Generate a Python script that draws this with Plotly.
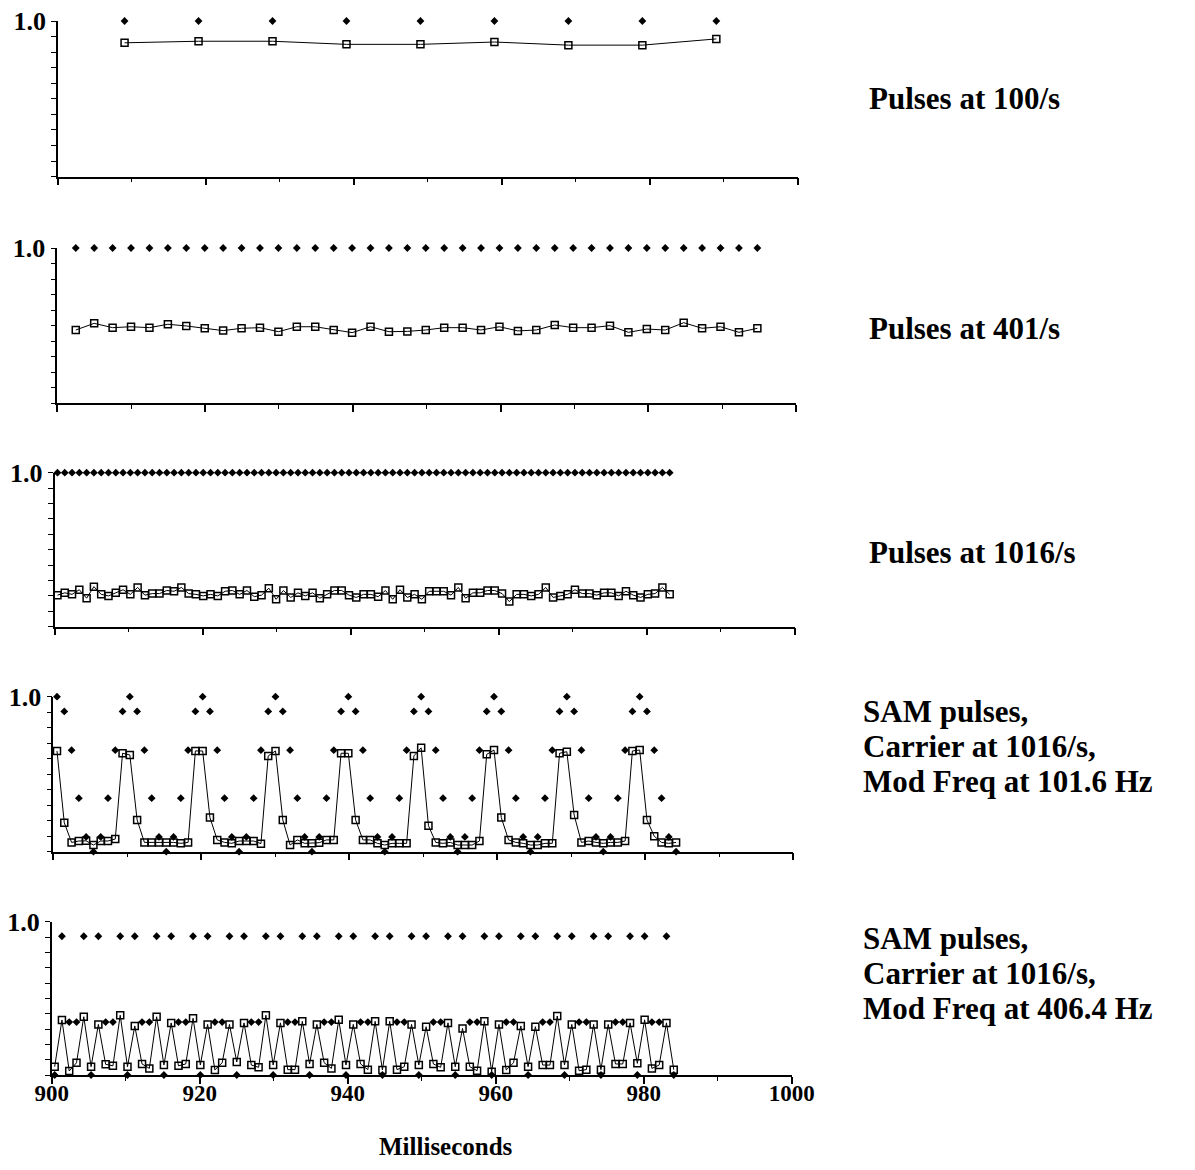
import plotly.graph_objects as go

# page offset (browser body margin) and figure size
OFF = 8
FW, FH = 1179, 1154

# ---------------- data ----------------
# pulse onset (ms) and pulse rate (pulses/s) for each panel
P1_T0, P1_RATE = 909.0, 100.0
P2_T0, P2_RATE = 902.5, 401.0
P3_T0, P3_RATE = 900.4, 1016.0
P4_T0, P4_RATE = 900.5, 1016.0
P5_T0, P5_RATE = 900.4, 1016.0

p1_stim = [1.0, 1.0, 1.0, 1.0, 1.0, 1.0, 1.0, 1.0, 1.0]
p1_resp = [0.86, 0.87, 0.87, 0.85, 0.85, 0.865, 0.845, 0.845, 0.885]

p2_stim = [1.0, 1.0, 1.0, 1.0, 1.0, 1.0, 1.0, 1.0, 1.0, 1.0,
           1.0, 1.0, 1.0, 1.0, 1.0, 1.0, 1.0, 1.0, 1.0, 1.0,
           1.0, 1.0, 1.0, 1.0, 1.0, 1.0, 1.0, 1.0, 1.0, 1.0,
           1.0, 1.0, 1.0, 1.0, 1.0, 1.0, 1.0, 1.0]
p2_resp = [0.471, 0.514, 0.486, 0.492, 0.486, 0.508, 0.497, 0.482, 0.467, 0.482,
           0.486, 0.460, 0.492, 0.492, 0.471, 0.454, 0.492, 0.460, 0.462, 0.471,
           0.486, 0.486, 0.471, 0.492, 0.465, 0.471, 0.503, 0.486, 0.486, 0.499,
           0.456, 0.477, 0.471, 0.518, 0.482, 0.492, 0.456, 0.482]

p3_stim = [1.0, 1.0, 1.0, 1.0, 1.0, 1.0, 1.0, 1.0, 1.0, 1.0,
           1.0, 1.0, 1.0, 1.0, 1.0, 1.0, 1.0, 1.0, 1.0, 1.0,
           1.0, 1.0, 1.0, 1.0, 1.0, 1.0, 1.0, 1.0, 1.0, 1.0,
           1.0, 1.0, 1.0, 1.0, 1.0, 1.0, 1.0, 1.0, 1.0, 1.0,
           1.0, 1.0, 1.0, 1.0, 1.0, 1.0, 1.0, 1.0, 1.0, 1.0,
           1.0, 1.0, 1.0, 1.0, 1.0, 1.0, 1.0, 1.0, 1.0, 1.0,
           1.0, 1.0, 1.0, 1.0, 1.0, 1.0, 1.0, 1.0, 1.0, 1.0,
           1.0, 1.0, 1.0, 1.0, 1.0, 1.0, 1.0, 1.0, 1.0, 1.0,
           1.0, 1.0, 1.0, 1.0, 1.0]
p3_resp = [0.205, 0.22, 0.21, 0.24, 0.185, 0.26, 0.21, 0.2, 0.22, 0.24,
           0.21, 0.255, 0.205, 0.215, 0.215, 0.235, 0.23, 0.255, 0.215, 0.21,
           0.2, 0.21, 0.2, 0.23, 0.235, 0.21, 0.235, 0.195, 0.205, 0.25,
           0.178, 0.235, 0.19, 0.22, 0.2, 0.22, 0.185, 0.21, 0.235, 0.235,
           0.205, 0.19, 0.21, 0.21, 0.195, 0.235, 0.178, 0.24, 0.19, 0.21,
           0.178, 0.23, 0.23, 0.23, 0.205, 0.255, 0.185, 0.22, 0.22, 0.235,
           0.235, 0.215, 0.163, 0.21, 0.21, 0.2, 0.21, 0.255, 0.19, 0.2,
           0.21, 0.24, 0.215, 0.215, 0.205, 0.22, 0.22, 0.2, 0.23, 0.205,
           0.19, 0.21, 0.215, 0.255, 0.21]

p4_stim = [1.0, 0.905, 0.655, 0.345, 0.095, 0.0, 0.095, 0.345, 0.655, 0.905,
           1.0, 0.905, 0.655, 0.345, 0.095, 0.0, 0.095, 0.345, 0.655, 0.905,
           1.0, 0.905, 0.655, 0.345, 0.095, 0.0, 0.095, 0.345, 0.655, 0.905,
           1.0, 0.905, 0.655, 0.345, 0.095, 0.0, 0.095, 0.345, 0.655, 0.905,
           1.0, 0.905, 0.655, 0.345, 0.095, 0.0, 0.095, 0.345, 0.655, 0.905,
           1.0, 0.905, 0.655, 0.345, 0.095, 0.0, 0.095, 0.345, 0.655, 0.905,
           1.0, 0.905, 0.655, 0.345, 0.095, 0.0, 0.095, 0.345, 0.655, 0.905,
           1.0, 0.905, 0.655, 0.345, 0.095, 0.0, 0.095, 0.345, 0.655, 0.905,
           1.0, 0.905, 0.655, 0.345, 0.095, 0.0]
p4_resp = [0.65, 0.187, 0.06, 0.069, 0.07, 0.043, 0.069, 0.069, 0.082, 0.635,
           0.624, 0.205, 0.06, 0.06, 0.06, 0.06, 0.06, 0.054, 0.06, 0.65,
           0.65, 0.22, 0.076, 0.06, 0.054, 0.069, 0.069, 0.069, 0.052, 0.618,
           0.65, 0.205, 0.043, 0.076, 0.054, 0.054, 0.058, 0.076, 0.076, 0.635,
           0.635, 0.205, 0.076, 0.076, 0.054, 0.043, 0.054, 0.054, 0.054, 0.618,
           0.67, 0.168, 0.06, 0.054, 0.06, 0.043, 0.043, 0.043, 0.069, 0.628,
           0.656, 0.22, 0.076, 0.06, 0.054, 0.043, 0.043, 0.054, 0.054, 0.635,
           0.645, 0.237, 0.06, 0.069, 0.06, 0.054, 0.06, 0.06, 0.069, 0.65,
           0.656, 0.205, 0.1, 0.06, 0.054, 0.06]

p5_stim = [0.0, 0.905, 0.345, 0.345, 0.905, 0.0, 0.905, 0.345, 0.345, 0.905,
           0.0, 0.905, 0.345, 0.345, 0.905, 0.0, 0.905, 0.345, 0.345, 0.905,
           0.0, 0.905, 0.345, 0.345, 0.905, 0.0, 0.905, 0.345, 0.345, 0.905,
           0.0, 0.905, 0.345, 0.345, 0.905, 0.0, 0.905, 0.345, 0.345, 0.905,
           0.0, 0.905, 0.345, 0.345, 0.905, 0.0, 0.905, 0.345, 0.345, 0.905,
           0.0, 0.905, 0.345, 0.345, 0.905, 0.0, 0.905, 0.345, 0.345, 0.905,
           0.0, 0.905, 0.345, 0.345, 0.905, 0.0, 0.905, 0.345, 0.345, 0.905,
           0.0, 0.905, 0.345, 0.345, 0.905, 0.0, 0.905, 0.345, 0.345, 0.905,
           0.0, 0.905, 0.345, 0.345, 0.905, 0.0]
p5_resp = [0.054, 0.359, 0.026, 0.08, 0.38, 0.054, 0.33, 0.07, 0.06, 0.39,
           0.054, 0.32, 0.072, 0.043, 0.38, 0.065, 0.34, 0.06, 0.072, 0.37,
           0.065, 0.33, 0.033, 0.08, 0.33, 0.085, 0.34, 0.065, 0.05, 0.39,
           0.065, 0.34, 0.035, 0.035, 0.35, 0.072, 0.33, 0.08, 0.043, 0.36,
           0.065, 0.33, 0.072, 0.035, 0.35, 0.033, 0.35, 0.035, 0.054, 0.33,
           0.065, 0.315, 0.072, 0.05, 0.34, 0.054, 0.304, 0.054, 0.028, 0.35,
           0.022, 0.33, 0.033, 0.08, 0.32, 0.054, 0.315, 0.065, 0.065, 0.385,
           0.065, 0.33, 0.028, 0.035, 0.33, 0.035, 0.33, 0.072, 0.072, 0.34,
           0.076, 0.36, 0.043, 0.065, 0.34, 0.035]

panel_labels = [
    ["Pulses at 100/s"],
    ["Pulses at 401/s"],
    ["Pulses at 1016/s"],
    ["SAM pulses,", "Carrier at 1016/s,", "Mod Freq at 101.6 Hz"],
    ["SAM pulses,", "Carrier at 1016/s,", "Mod Freq at 406.4 Hz"],
]
x_tick_vals = [900, 920, 940, 960, 980, 1000]
x_minor_vals = [910, 930, 950, 970, 990]
y_tick_vals = [0, 0.1, 0.2, 0.3, 0.4, 0.5, 0.6, 0.7, 0.8, 0.9, 1.0]
y_tick_text = ["", "", "", "", "", "", "", "", "", "", "1.0"]
x_title = "Milliseconds"

# ---------------- layout geometry (page pixels) ----------------
panels = [
    dict(t0=P1_T0, rate=P1_RATE, stim=p1_stim, resp=p1_resp, x=(58, 797.7), y=(21, 176.7)),
    dict(t0=P2_T0, rate=P2_RATE, stim=p2_stim, resp=p2_resp, x=(57.3, 796), y=(248, 403)),
    dict(t0=P3_T0, rate=P3_RATE, stim=p3_stim, resp=p3_resp, x=(54.5, 795), y=(472.7, 626.7)),
    dict(t0=P4_T0, rate=P4_RATE, stim=p4_stim, resp=p4_resp, x=(53.3, 793.3), y=(696.7, 851.7)),
    dict(t0=P5_T0, rate=P5_RATE, stim=p5_stim, resp=p5_resp, x=(51.7, 791.7), y=(921.7, 1075)),
]
label_pos = [
    (868, [98]),
    (868, [328]),
    (868, [552]),
    (862, [711, 746, 781]),
    (862, [938, 973, 1008]),
]


def fx(px):
    return (px - OFF) / FW


def fy(py):
    return 1 - (py - OFF) / FH


FONT = "Liberation Serif"
LABEL_SIZE = 31
fig = go.Figure()
layout = dict(
    width=FW, height=FH, margin=dict(l=0, r=0, t=0, b=0, autoexpand=False),
    paper_bgcolor="white", plot_bgcolor="white", showlegend=False,
    font=dict(family=FONT, color="black"),
)

annotations = []
for i, p in enumerate(panels):
    n = i + 1
    xa = "x" if n == 1 else f"x{n}"
    ya = "y" if n == 1 else f"y{n}"
    times = [p["t0"] + k * 1000.0 / p["rate"] for k in range(len(p["resp"]))]
    fig.add_trace(go.Scatter(
        x=times, y=p["stim"], xaxis=xa, yaxis=ya, mode="markers",
        marker=dict(symbol="diamond", size=6, color="black", line=dict(width=0)),
        cliponaxis=False, hoverinfo="skip"))
    fig.add_trace(go.Scatter(
        x=times, y=p["resp"], xaxis=xa, yaxis=ya, mode="lines+markers",
        line=dict(color="black", width=1),
        marker=dict(symbol="square-open", size=7, color="black", line=dict(width=1.5, color="black")),
        cliponaxis=False, hoverinfo="skip"))
    last = (n == len(panels))
    layout["xaxis" if n == 1 else f"xaxis{n}"] = dict(
        domain=[fx(p["x"][0]), fx(p["x"][1])], anchor=ya, range=[900, 1000],
        automargin=False,
        showline=True, linecolor="black", linewidth=1.5, mirror=False,
        ticks="outside", ticklen=7, tickwidth=1.5, tickcolor="black",
        tickmode="array", tickvals=x_tick_vals,
        minor=dict(tickmode="array", tickvals=x_minor_vals, ticks="outside",
                   ticklen=4, tickwidth=1.2, tickcolor="black", showgrid=False),
        showticklabels=last, showgrid=False, zeroline=False,
        ticklabelstandoff=-10, ticklabeloverflow="allow",
        tickfont=dict(family=FONT, size=23, weight="bold", color="black"),
    )
    layout["yaxis" if n == 1 else f"yaxis{n}"] = dict(
        domain=[fy(p["y"][1]), fy(p["y"][0])], anchor=xa, range=[0, 1],
        automargin=False,
        showline=True, linecolor="black", linewidth=1.5,
        ticks="outside", ticklen=5, tickwidth=1.2, tickcolor="black",
        tickmode="array", tickvals=y_tick_vals, ticktext=y_tick_text,
        showgrid=False, zeroline=False, ticklabeloverflow="allow",
        tickfont=dict(family=FONT, size=26, weight="bold", color="black"),
    )
    lx, lys = label_pos[i]
    for txt, ly in zip(panel_labels[i], lys):
        annotations.append(dict(
            text=txt, xref="paper", yref="paper", x=fx(lx), y=fy(ly),
            xanchor="left", yanchor="middle", showarrow=False, borderpad=0,
            font=dict(family=FONT, size=LABEL_SIZE, weight="bold", color="black")))

annotations.append(dict(
    text=x_title, xref="paper", yref="paper", x=fx(446), y=fy(1146),
    xanchor="center", yanchor="middle", showarrow=False,
    font=dict(family=FONT, size=25, weight="bold", color="black")))

layout["annotations"] = annotations
fig.update_layout(**layout)
fig.write_html("out.html")
